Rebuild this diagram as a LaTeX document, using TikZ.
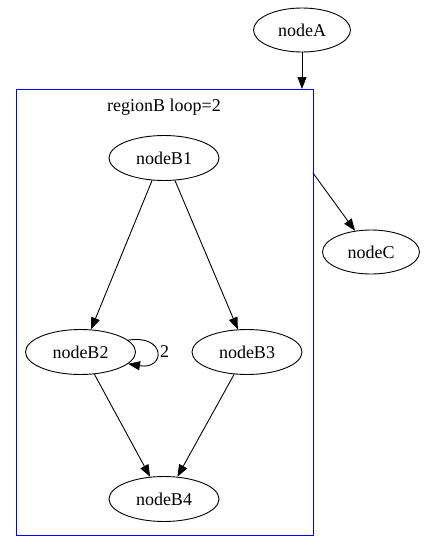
\documentclass[tikz,border=0pt]{standalone}
\usepackage{fontspec}
\setmainfont{Liberation Serif}
\usetikzlibrary{shapes.geometric,arrows.meta}
\begin{document}
\begin{tikzpicture}[x=1pt,y=-1pt,
  nd/.style={ellipse,draw,line width=0.9pt,minimum width=110pt,minimum height=45pt,inner sep=0pt,font=\fontsize{18}{21}\selectfont},
  arr/.style={-{Triangle[length=12pt,width=9pt]},line width=0.9pt},
  clus/.style={draw=blue,line width=0.9pt}]
\useasboundingbox (0,0) rectangle (425,551);
\draw[clus] (16,89) rectangle (313,535);
\node[font=\fontsize{18}{21}\selectfont] (lbl) at (164,107) {regionB loop=2};
\node[nd,minimum width=97pt,minimum height=44pt] (A) at (302,30) {nodeA};
\node[nd] (B1) at (164,158) {nodeB1};
\node[nd] (B2) at (80.5,352) {nodeB2};
\node[nd] (B3) at (247,352) {nodeB3};
\node[nd] (B4) at (164,499) {nodeB4};
\node[nd,minimum width=97pt,minimum height=44pt] (C) at (371,252) {nodeC};
\coordinate (ctop) at (302,89);
\coordinate (cright) at (313,173);
\draw[arr] (A) -- (ctop);
\draw[arr] (cright) -- (C.127);
\draw[arr] (B1.242) -- (B2.65);
\draw[arr] (B1.296) -- (B3.112);
\draw[arr] (B2.302) -- (B4.122);
\draw[arr] (B3.240) -- (B4.59);
\draw[arr] (B2.14) .. controls (166,334) and (166,370) .. (B2.-14);
\node[font=\fontsize{18}{21}\selectfont] (l2) at (164.5,352) {2};
\end{tikzpicture}
\end{document}
